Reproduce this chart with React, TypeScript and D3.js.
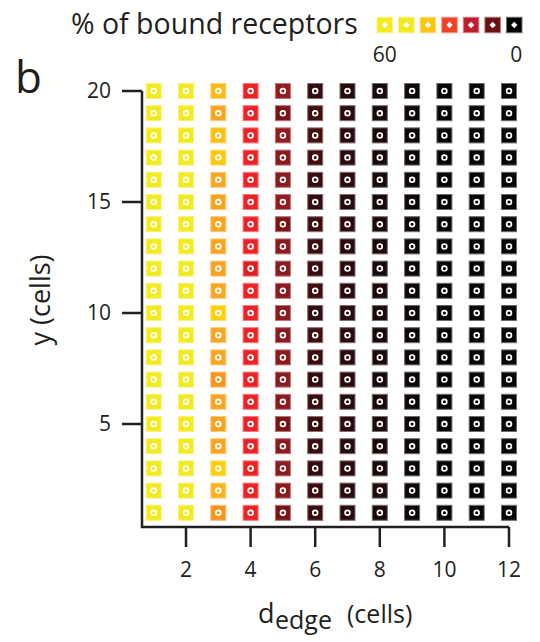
import React from "react";
import * as d3 from "d3";

const dEdge = [1, 2, 3, 4, 5, 6, 7, 8, 9, 10, 11, 12];
const yCells = Array.from({ length: 20 }, (_, i) => i + 1);
const xTicks = [2, 4, 6, 8, 10, 12];
const yTicks = [5, 10, 15, 20];

// % of bound receptors per column (d_edge = 1..12), rows y = 1..20
const col1 = [60, 60, 60, 60, 60, 60, 60, 60, 60, 60, 60, 60, 60, 60, 60, 60, 60, 60, 60, 60];
const col2 = [57, 57, 57, 57, 57, 57, 57, 57, 57, 57, 57, 57, 57, 57, 57, 57, 57, 57, 57, 57];
const col3 = [34, 42, 46, 40, 39, 39.5, 34, 39.5, 40, 46, 40, 38.5, 40, 39.5, 40, 40, 45, 43.5, 40, 43];
const col4 = [24, 24, 24, 24, 24, 24, 24, 24, 24, 24, 24, 22.5, 24, 24, 24, 24, 24, 24, 24, 24];
const col5 = [12, 15, 15, 15, 12, 15, 15, 15, 15, 15, 15, 15, 15, 12, 16, 15, 15, 16, 12, 16];
const col6 = [7, 7, 6, 7, 7, 7, 6, 7, 7.5, 5.5, 7.5, 7, 7, 7.5, 6, 7, 7.5, 8, 7.5, 5.5];
const col7 = [4, 4, 4.5, 4, 4.5, 4, 4.5, 4, 4.5, 4, 4, 4, 4.5, 4.5, 4, 4.5, 4.5, 4.5, 4.5, 3.5];
const col8 = [2.5, 3, 2.5, 2.5, 2.5, 2.5, 2, 2.5, 2, 2.5, 2.5, 2, 2.5, 2.5, 2, 2.5, 2, 2, 2, 2];
const col9 = [1, 1, 1, 1, 1, 1, 1, 1, 1, 1, 1, 1, 1, 1, 1, 1, 1, 1, 1, 1];
const col10 = [0.3, 0.3, 0.3, 0.3, 0.3, 0.3, 0.3, 0.3, 0.3, 0.3, 0.3, 0.3, 0.3, 0.3, 0.3, 0.3, 0.3, 0.3, 0.3, 0.3];
const col11 = [0.3, 0.3, 0.3, 0.3, 0.3, 0.3, 0.3, 0.3, 0.3, 0.3, 0.3, 0.3, 0.3, 0.3, 0.3, 0.3, 0.3, 0.3, 0.3, 0.3];
const col12 = [0.2, 0.2, 0.2, 0.2, 0.2, 0.2, 0.2, 0.2, 0.2, 0.2, 0.2, 0.2, 0.2, 0.2, 0.2, 0.2, 0.2, 0.2, 0.2, 0.2];
const columns = [col1, col2, col3, col4, col5, col6, col7, col8, col9, col10, col11, col12];

const colorStops = [0, 1, 2.5, 4, 7, 12, 15, 24, 34, 40, 46, 52, 60];
const colorValues = [
  "#070505", "#0f0808", "#1c0a0b", "#2a0b0d", "#3a0c0e", "#7b1416", "#8b1a1e",
  "#ee2127", "#f7941e", "#f8a61f", "#fdcf0c", "#f3ea1f", "#f3ea1f",
];

const legendValues = [60, 50, 40, 30, 20, 10, 0];
const legendColors = ["#f3ea1f", "#f2e91f", "#fcc50f", "#ef4123", "#be1e2d", "#6a0f12", "#000000"];
const legendLabels = ["60", "0"];

const INK = "#231f20";
const FONT = "'Open Sans', 'Noto Sans', sans-serif";

export default function App() {
  const x = d3.scaleLinear().domain([2, 12]).range([186, 509]);
  const y = d3.scaleLinear().domain([5, 20]).range([424, 91]);
  const color = d3.scaleLinear<string>().domain(colorStops).range(colorValues).interpolate(d3.interpolateRgb);
  const legendX = d3.scaleBand<number>().domain(legendValues).range([377, 522]).paddingInner(0.28);
  const legendColor = d3.scaleOrdinal<number, string>().domain(legendValues).range(legendColors);

  const cell = 16;
  const xLeft = 142;
  const yBottom = 527;

  const cells: { cx: number; cy: number; v: number; key: string }[] = [];
  dEdge.forEach((d, i) => {
    yCells.forEach((yy, j) => {
      cells.push({ cx: x(d), cy: y(yy), v: columns[i][j], key: `${d}-${yy}` });
    });
  });

  return (
    <svg width={540} height={642} style={{ position: "absolute", left: 0, top: 0, background: "#fff" }} fontFamily={FONT}>
      {/* legend */}
      <text x={71} y={34} fontSize={28.5} fill={INK}>% of bound receptors</text>
      {legendValues.map((v) => {
        const lx = legendX(v)!;
        const w = legendX.bandwidth();
        const cx = lx + w / 2;
        const cy = 25;
        return (
          <g key={v}>
            <rect x={lx} y={cy - w / 2} width={w} height={w} fill={legendColor(v)}
              stroke={d3.interpolateRgb(legendColor(v), "#ffffff")(0.45)} strokeWidth={1} />
            <path d={`M${cx},${cy - 3.2}L${cx + 3.2},${cy}L${cx},${cy + 3.2}L${cx - 3.2},${cy}Z`} fill="#fff" />
          </g>
        );
      })}
      <text x={legendX(60)! + legendX.bandwidth() / 2} y={62} fontSize={21} textAnchor="middle" fill={INK}>{legendLabels[0]}</text>
      <text x={legendX(0)! + legendX.bandwidth() / 2 + 2} y={62} fontSize={21} textAnchor="middle" fill={INK}>{legendLabels[1]}</text>

      {/* panel letter */}
      <text x={15} y={93} fontSize={44} fill={INK}>b</text>

      {/* cells */}
      {cells.map((c) => {
        const fill = color(c.v);
        return (
          <g key={c.key}>
            <rect x={c.cx - cell / 2 + 0.5} y={c.cy - cell / 2 + 0.5} width={cell - 1} height={cell - 1}
              fill={fill} stroke={d3.interpolateRgb(fill, "#ffffff")(0.4)} strokeWidth={1} />
            <circle cx={c.cx} cy={c.cy} r={2.4} fill="none" stroke="#fff" strokeWidth={1.7} />
          </g>
        );
      })}

      {/* axes */}
      <path d={`M${xLeft},${y(20)}V${yBottom}H${x(12)}`} fill="none" stroke={INK} strokeWidth={2.5} />
      {yTicks.map((t) => (
        <g key={t}>
          <line x1={122} x2={xLeft} y1={y(t)} y2={y(t)} stroke={INK} strokeWidth={2.5} />
          <text x={111} y={y(t)} dy="0.35em" fontSize={21} textAnchor="end" fill={INK}>{t}</text>
        </g>
      ))}
      {xTicks.map((t) => (
        <g key={t}>
          <line x1={x(t)} x2={x(t)} y1={yBottom} y2={547} stroke={INK} strokeWidth={2.5} />
          <text x={x(t)} y={577} fontSize={21} textAnchor="middle" fill={INK}>{t}</text>
        </g>
      ))}

      {/* axis labels */}
      <text transform="translate(50,300) rotate(-90)" fontSize={27} textAnchor="middle" fill={INK}>y (cells)</text>
      <text x={258} y={623} fontSize={27} fill={INK}>d</text>
      <text x={275} y={629} fontSize={25} fill={INK}>edge</text>
      <text x={347} y={623} fontSize={25} fill={INK}>(cells)</text>
    </svg>
  );
}
